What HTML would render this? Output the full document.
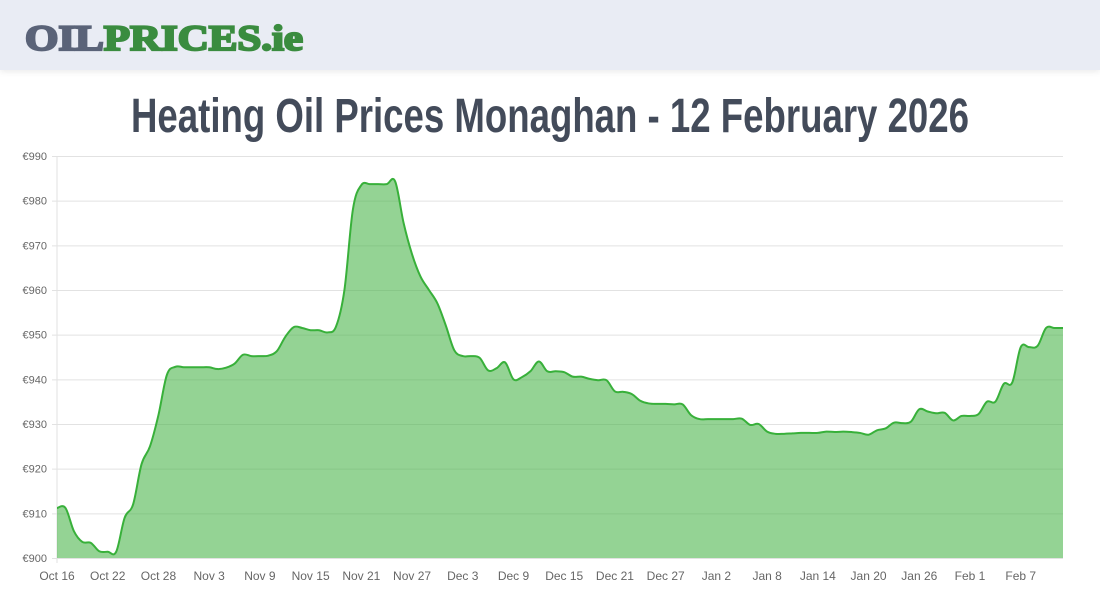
<!DOCTYPE html>
<html><head><meta charset="utf-8"><style>
html,body{margin:0;padding:0;background:#fff;width:1100px;height:600px;overflow:hidden;font-family:"Liberation Sans",sans-serif}
#hdr{position:absolute;left:0;top:0;width:1100px;height:70px;background:#e9ecf4;box-shadow:0 2px 6px rgba(0,0,0,0.08)}
svg{position:absolute;left:0;top:0}
</style></head><body>
<div id="hdr"></div>
<svg width="1100" height="600" id="main">
<text x="25" y="50" font-family="Liberation Serif,serif" font-weight="bold" font-size="36" stroke-width="2.2" textLength="278" lengthAdjust="spacingAndGlyphs"><tspan fill="#5a6378" stroke="#5a6378">OIL</tspan><tspan fill="#3a8c3f" stroke="#3a8c3f">PRICES.ie</tspan></text>
<text x="550" y="132" text-anchor="middle" font-family="Liberation Sans Narrow,Liberation Sans,sans-serif" font-weight="bold" font-size="48" fill="#434b5a" textLength="838" lengthAdjust="spacingAndGlyphs">Heating Oil Prices Monaghan - 12 February 2026</text>
<g id="grid"></g><g id="area"></g><g id="axes"></g>
</svg>
<script>
const yTicks=[900,910,920,930,940,950,960,970,980,990];
const xLabels=["Oct 16","Oct 22","Oct 28","Nov 3","Nov 9","Nov 15","Nov 21","Nov 27","Dec 3","Dec 9","Dec 15","Dec 21","Dec 27","Jan 2","Jan 8","Jan 14","Jan 20","Jan 26","Feb 1","Feb 7"];
const prices=[911.2,911.2,906,903.6,903.4,901.5,901.4,901.4,909,912,921,925,932,941,942.8,942.7,942.7,942.7,942.7,942.3,
942.6,943.5,945.5,945.2,945.2,945.3,946.3,949.5,951.7,951.5,951,951,950.5,951.8,960,978,983.5,983.7,983.7,983.7,
984.3,975,968,963,960,957,952,946.5,945.2,945.2,944.8,942,942.5,943.8,940,940.5,941.8,944,941.8,941.8,
941.6,940.6,940.6,940.1,939.8,939.8,937.3,937.2,936.7,935.2,934.6,934.5,934.5,934.4,934.4,932,931.1,931.1,931.1,931.1,
931.1,931.2,929.8,930,928.3,927.8,927.8,927.9,928,928,928,928.3,928.2,928.3,928.2,928,927.6,928.6,929,930.3,
930.2,930.5,933.3,932.8,932.4,932.5,930.8,931.8,931.8,932.2,935,935,939,939.3,947.2,947.2,947.5,951.5,951.5,951.5];
const L=57,R=1063,T=156,B=558,yMin=900,yMax=990;
const n=prices.length;
const xs=i=>L+(R-L)*i/(n-1);
const ys=v=>B-(v-yMin)/(yMax-yMin)*(B-T);
const NS="http://www.w3.org/2000/svg";
function mk(tag,attrs,parent){const e=document.createElementNS(NS,tag);for(const k in attrs)e.setAttribute(k,attrs[k]);parent.appendChild(e);return e;}
const grid=document.getElementById('grid'),axes=document.getElementById('axes'),area=document.getElementById('area');
yTicks.forEach(v=>{
 const g=mk('line',{x1:L-5,x2:R,y1:ys(v)+0.5,y2:ys(v)+0.5,stroke:'#e2e2e2','stroke-width':1},grid);
 
 
 const t=mk('text',{x:L-10,y:ys(v)+4,'text-anchor':'end','font-size':11,fill:'#666'},axes);
 t.textContent='€'+v;
 
 
});
const ax=mk('line',{x1:L,x2:L,y1:T,y2:B+5,stroke:'#e2e2e2'},grid);


xLabels.forEach((s,i)=>{
 const x=xs(i*6);
 const t=mk('text',{x:x,y:580,'text-anchor':'middle','font-size':12,fill:'#666'},axes);
 t.textContent=s;
 
 
});
const pts=prices.map((v,i)=>[xs(i),ys(v)]);
let d='M'+pts[0][0]+','+pts[0][1];
const k=0.35;
for(let i=0;i<n-1;i++){
 const p0=pts[Math.max(0,i-1)],p1=pts[i],p2=pts[i+1],p3=pts[Math.min(n-1,i+2)];
 const c1=[p1[0]+(p2[0]-p0[0])*k/2,p1[1]+(p2[1]-p0[1])*k/2];
 const c2=[p2[0]-(p3[0]-p1[0])*k/2,p2[1]-(p3[1]-p1[1])*k/2];
 d+=' C'+c1[0]+','+c1[1]+' '+c2[0]+','+c2[1]+' '+p2[0]+','+p2[1];
}
const fill=mk('path',{d:d+' L'+R+','+B+' L'+L+','+B+' Z',fill:'rgba(70,180,70,0.58)'},area);


const line=mk('path',{d:d,fill:'none',stroke:'#38b03a','stroke-width':2},area);


</script>
</body></html>
